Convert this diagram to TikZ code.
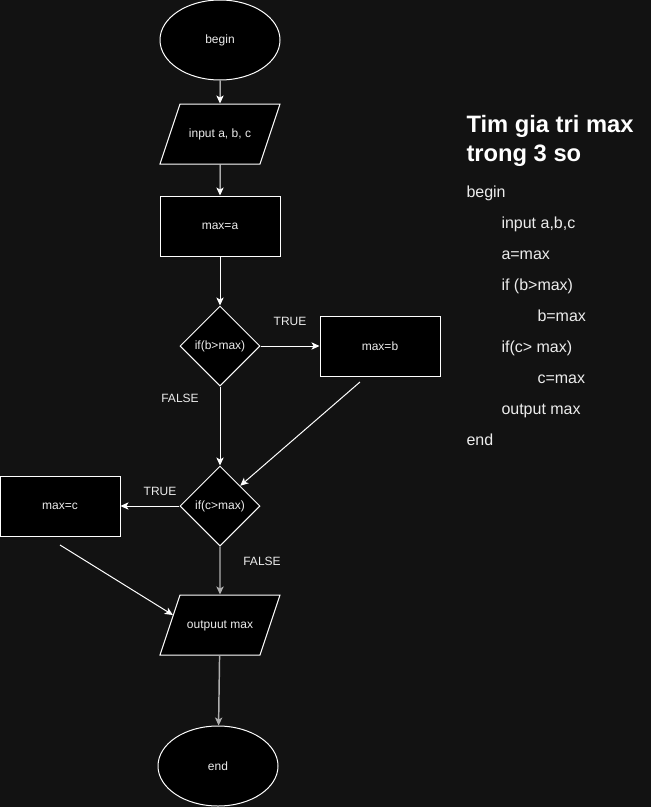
\documentclass[tikz,border=0pt]{standalone}
\usepackage{fontspec}
\setmainfont{Liberation Sans}
\usetikzlibrary{shapes.geometric, arrows.meta}
\definecolor{bgdark}{RGB}{18,18,18}
\definecolor{txtlight}{RGB}{236,236,236}
\definecolor{linegray}{RGB}{175,175,175}

\begin{document}
\begin{tikzpicture}[x=0.75pt, y=-0.75pt, line width=0.75pt,
    every node/.style={text=txtlight, font=\fontsize{9}{11}\selectfont},
    base/.style={draw=white, fill=black, inner sep=0pt},
    term/.style={base, ellipse, minimum width=90pt, minimum height=60pt},
    io/.style={base, trapezium, trapezium left angle=71.57, trapezium right angle=108.43,
        text width=58pt, align=flush center, text height=7pt, text depth=2pt,
        inner xsep=1pt, inner ysep=18pt},
    proc/.style={base, rectangle, minimum width=90pt, minimum height=45pt},
    cond/.style={base, diamond, minimum width=60pt, minimum height=60pt},
    arr/.style={draw=white, -{Stealth[length=6pt, width=5.5pt, inset=1.5pt]}},
    arrgray/.style={arr, draw=linegray, line width=1.1pt},
    lbl/.style={inner sep=0pt},
    code/.style={anchor=base west, inner sep=0pt, font=\fontsize{12}{14}\selectfont},
    title/.style={anchor=base west, inner sep=0pt, text=white, font=\fontsize{17.8}{21}\selectfont\bfseries}];

    \fill[bgdark] (0,0) rectangle (651,807);
    \useasboundingbox (0,0) rectangle (651,807);

    % flowchart
    \node[term] (begin) at (220,40) {begin};
    \node[io] (input) at (220,134) {input a, b, c};
    \node[proc] (maxa) at (220,226) {max=a};
    \node[cond] (ifb) at (220,346) {if(b>max)};
    \node[proc] (maxb) at (380,346) {max=b};
    \node[cond] (ifc) at (220,506) {if(c>max)};
    \node[proc] (maxc) at (60,506) {max=c};
    \node[io] (output) at (220,625) {outpuut max};
    \node[term] (end) at (218,766) {end};

    \node[lbl] (trueb) at (290,321) {TRUE};
    \node[lbl] (falseb) at (180,398) {FALSE};
    \node[lbl] (truec) at (160,491) {TRUE};
    \node[lbl] (falsec) at (262,561) {FALSE};

    \coordinate (maxbout) at (360,382);
    \coordinate (maxcout) at (60,545);

    \draw[arr] (begin) -- (input);
    \draw[arr] (input) -- (maxa);
    \draw[arr] (maxa) -- (ifb);
    \draw[arr] (ifb) -- (maxb);
    \draw[arr] (ifb) -- (ifc);
    \draw[arr] (maxbout) -- (ifc.north east);
    \draw[arr] (ifc) -- (maxc);
    \draw[arrgray] (ifc) -- (output);
    \draw[arr] (maxcout) -- (output.168);
    \draw[arrgray] (output) -- (end);

    % pseudo code
    \node[title] (title1) at (466,132) {Tim gia tri max};
    \node[title] (title2) at (466,161) {trong 3 so};

    \node[code] (cbegin) at (466,197) {begin};
    \node[code] (cinput) at (501,228) {input a,b,c};
    \node[code] (cmaxa) at (501,259) {a=max};
    \node[code] (cifb) at (501,290) {if (b>max)};
    \node[code] (cmaxb) at (537,321) {b=max};
    \node[code] (cifc) at (501,352) {if(c> max)};
    \node[code] (cmaxc) at (537,383) {c=max};
    \node[code] (coutput) at (501,414) {output max};
    \node[code] (cend) at (466,445) {end};
\end{tikzpicture}
\end{document}
